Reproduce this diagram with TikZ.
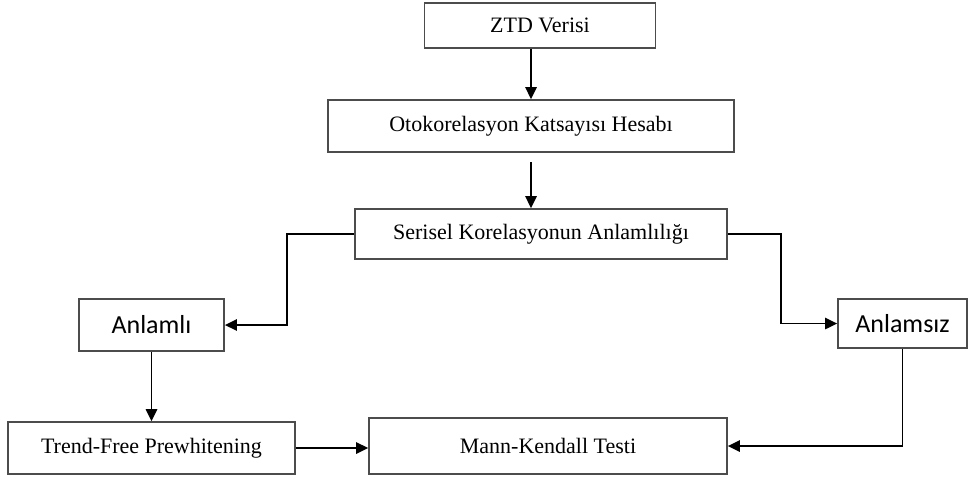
\documentclass[tikz,border=0pt]{standalone}
\usepackage{fontspec}
\setmainfont{Liberation Serif}
\newfontfamily\carlito{Carlito}
\usetikzlibrary{arrows.meta}

\begin{document}
\begin{tikzpicture}[
  x=0.75pt, y=-0.75pt,
  box/.style={draw=black!70, rectangle, line width=1.3pt, inner sep=0pt, align=center, font=\fontsize{16.5}{19}\selectfont},
  sansbox/.style={box, font=\carlito\fontsize{19.5}{22}\selectfont},
  arrow/.style={-{Triangle[length=9pt, width=8.5pt]}, line width=1.4pt}
]
\useasboundingbox (0,0) rectangle (969,479);

% Main column
\node[box, minimum width=173.3pt, minimum height=33.8pt] (ztd) at (540, 25.5) {ZTD Verisi};
\node[box, minimum width=304.5pt, minimum height=39pt] (otokor) at (531, 126) {Otokorelasyon Katsayısı Hesabı};
\node[box, minimum width=279pt, minimum height=37.5pt] (serisel) at (541, 234) {Serisel Korelasyonun Anlamlılığı};

% Branches at y=325
\node[sansbox, minimum width=108.8pt, minimum height=39pt] (anlamli) at (151.5, 325) {Anlamlı};
\node[sansbox, minimum width=96.8pt, minimum height=36.8pt] (anlamsiz) at (902.5, 323.5) {Anlamsız};

% Bottom row at y=447
\node[box, minimum width=215.3pt, minimum height=39pt] (tfpw) at (151.5, 448) {Trend-Free Prewhitening};
\node[box, minimum width=268.5pt, minimum height=42pt] (mk) at (548, 446) {Mann-Kendall Testi};

% Main column connections
\draw[arrow] (ztd.south -| otokor.north) -- (otokor.north);
\draw[arrow, shorten <=7pt] (otokor.south) -- (otokor.south |- serisel.north);

% Branch connections
\draw[arrow] (serisel.west) -- ++(-67, 0) |- (anlamli.east);
\draw[arrow] (serisel.east) -- ++(53, 0) |- (anlamsiz.west);

% Bottom row connections
\draw[arrow] (anlamli.south) -- (anlamli.south |- tfpw.north);
\draw[arrow] (tfpw.east) -- (tfpw.east -| mk.west);
\draw[arrow] (anlamsiz.south) |- (mk.east);

\end{tikzpicture}
\end{document}
